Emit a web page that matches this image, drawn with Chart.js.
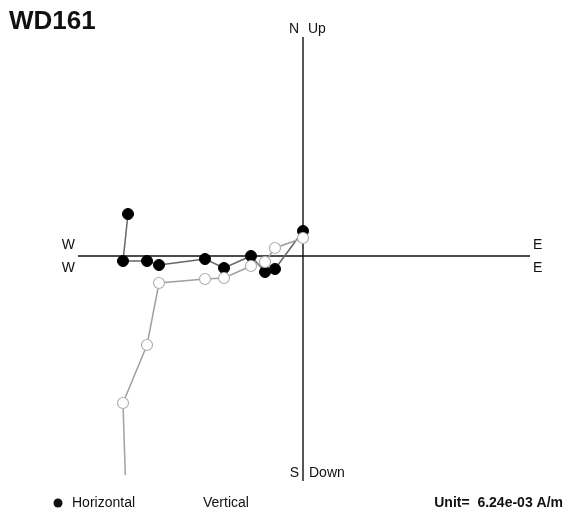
<!DOCTYPE html>
<html>
<head>
<meta charset="utf-8">
<script src="https://cdn.jsdelivr.net/npm/chart.js@4"></script>
<style>
  html, body { margin: 0; padding: 0; background: #fff; }
  #wrap { width: 566px; height: 519px; }
</style>
</head>
<body>
<div id="wrap"><canvas id="c" width="566" height="519"></canvas></div>
<script>
// demagnetisation steps, East component (shared by both projections)
const east = [0, -0.56, -0.76, -1.04, -1.58, -1.96, -2.88, -3.12, -3.60, -3.50];
// horizontal projection: North component
const north = [0.50, -0.26, -0.32, 0, -0.24, -0.06, -0.18, -0.10, -0.10, 0.84];
// vertical projection: Up component
const up = [0.36, 0.16, -0.12, -0.20, -0.44, -0.46, -0.54, -1.78, -2.94, -6.08];

const title = 'WD161';
const unitText = 'Unit=  6.24e-03 A/m';

const horizPts = east.map((x, i) => ({ x: x, y: north[i] }));
const vertPts = east.map((x, i) => ({ x: x, y: up[i] }));

const font = '"Liberation Sans", Arial, sans-serif';

// axes cross + labels, drawn from the scales
const zijder = {
  id: 'zijder',
  beforeDatasetsDraw(chart) {
    const ctx = chart.ctx;
    const xs = chart.scales.x, ys = chart.scales.y;
    const x0 = xs.getPixelForValue(0), y0 = ys.getPixelForValue(0);
    const a = chart.chartArea;
    ctx.save();
    ctx.strokeStyle = '#111';
    ctx.lineWidth = 1.4;
    ctx.beginPath();
    ctx.moveTo(a.left, y0); ctx.lineTo(a.right, y0);
    ctx.moveTo(x0, a.top); ctx.lineTo(x0, a.bottom + 6);
    ctx.stroke();
    ctx.restore();
  },
  afterDraw(chart) {
    const ctx = chart.ctx;
    const xs = chart.scales.x, ys = chart.scales.y;
    const x0 = xs.getPixelForValue(0), y0 = ys.getPixelForValue(0);
    const a = chart.chartArea;
    ctx.save();
    ctx.fillStyle = '#111';
    ctx.font = '14px ' + font;
    ctx.textBaseline = 'middle';
    ctx.textAlign = 'right';
    ctx.fillText('W', a.left - 3, y0 - 11);
    ctx.fillText('W', a.left - 3, y0 + 12);
    ctx.fillText('N', x0 - 4, 29);
    ctx.fillText('S', x0 - 4, a.bottom - 2);
    ctx.textAlign = 'left';
    ctx.fillText('E', a.right + 3, y0 - 11);
    ctx.fillText('E', a.right + 3, y0 + 12);
    ctx.fillText('Up', x0 + 5, 29);
    ctx.fillText('Down', x0 + 6, a.bottom - 2);

    // title
    ctx.font = 'bold 26px ' + font;
    ctx.textBaseline = 'alphabetic';
    ctx.fillText(title, 9, 29);

    // legend
    ctx.font = '14px ' + font;
    ctx.textBaseline = 'middle';
    ctx.beginPath();
    ctx.arc(58, 503, 4.5, 0, Math.PI * 2);
    ctx.fill();
    ctx.fillText('Horizontal', 72, 503);
    ctx.fillText('Vertical', 203, 503);
    ctx.font = 'bold 14px ' + font;
    ctx.textAlign = 'right';
    ctx.fillText(unitText, 563, 503);
    ctx.restore();
  }
};

new Chart(document.getElementById('c'), {
  type: 'scatter',
  data: {
    datasets: [
      {
        label: 'Vertical',
        data: vertPts,
        showLine: true,
        borderColor: '#a0a0a0',
        borderWidth: 1.5,
        pointRadius: 5.5,
        pointBackgroundColor: '#fff',
        pointBorderColor: '#b0b0b0',
        pointBorderWidth: 1.2
      },
      {
        label: 'Horizontal',
        data: horizPts,
        showLine: true,
        borderColor: '#666',
        borderWidth: 1.5,
        pointRadius: 5.5,
        pointBackgroundColor: '#000',
        pointBorderColor: '#000',
        pointBorderWidth: 1
      }
    ]
  },
  options: {
    responsive: false,
    animation: false,
    layout: { padding: { left: 78, right: 36, top: 37, bottom: 44 } },
    scales: {
      x: { type: 'linear', display: false, min: -4.5, max: 4.54 },
      y: { type: 'linear', display: false, min: -4.38, max: 4.38 }
    },
    plugins: {
      legend: { display: false },
      tooltip: { enabled: false }
    }
  },
  plugins: [zijder]
});
</script>
</body>
</html>
